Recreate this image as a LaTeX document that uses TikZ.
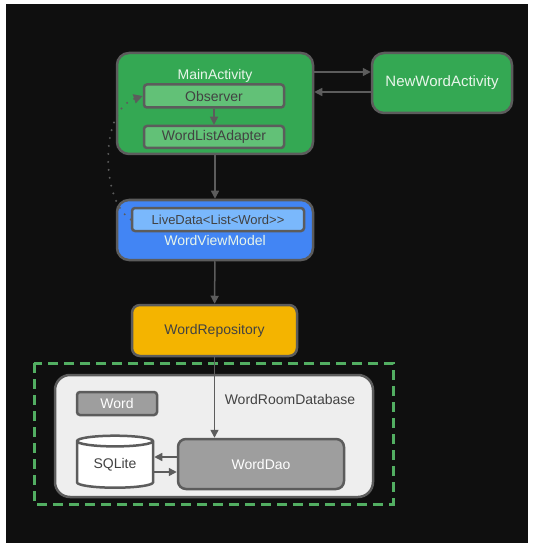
\documentclass[tikz,border=0pt]{standalone}
\usepackage{fontspec}
\setmainfont{Liberation Sans}
\usetikzlibrary{arrows.meta,shapes.geometric}
\definecolor{bgc}{HTML}{0F0F0F}
\definecolor{edgec}{HTML}{5C5C5C}
\definecolor{greenc}{HTML}{34A853}
\definecolor{lgreenc}{HTML}{62C177}
\definecolor{bluec}{HTML}{4285F4}
\definecolor{lbluec}{HTML}{7AB8FC}
\definecolor{yellowc}{HTML}{F4B400}
\definecolor{greyc}{HTML}{9E9E9E}
\definecolor{roomc}{HTML}{EEEEEE}
\definecolor{dashc}{HTML}{52AE62}
\definecolor{darkt}{HTML}{424242}
\definecolor{lightt}{HTML}{E8F5EA}

\begin{document}
\begin{tikzpicture}[x=1pt,y=-1pt,
    box/.style={draw=edgec, line width=2.5pt, rounded corners=12pt, inner sep=0pt,
      font=\fontsize{14}{16}\selectfont},
    inbox/.style={draw=edgec, line width=2.5pt, rounded corners=3pt, inner sep=0pt,
      font=\fontsize{14}{16}\selectfont, text=darkt},
    lbl/.style={inner sep=0pt, font=\fontsize{14}{16}\selectfont},
    arr/.style={draw=edgec, line width=1.5pt, -{Triangle[length=8pt,width=8pt]}},
    dots/.style={draw=edgec, line width=2.2pt, dash pattern=on 0pt off 8pt, line cap=round,
      -{Triangle[length=9pt,width=9pt]}}]
  \useasboundingbox (0,0) rectangle (532,545);
  \fill[white] (0,0) rectangle (532,545);
  \fill[bgc] (6,4) rectangle (528,543);
  \node[box, fill=greenc, minimum width=196pt, minimum height=101pt] (ma) at (215,103.5) {};
  \node[lbl, text=lightt] (mat) at (215,76) {MainActivity};
  \node[inbox, fill=lgreenc, minimum width=140pt, minimum height=23pt] (ob) at (214,96) {Observer};
  \node[inbox, fill=lgreenc, minimum width=140pt, minimum height=22pt] (wl) at (214,137) {WordListAdapter};
  \node[box, fill=greenc, text=lightt, minimum width=140pt, minimum height=60pt,
    font=\fontsize{15}{17}\selectfont] (nw) at (442,83) {NewWordActivity};
  \node[box, fill=bluec, minimum width=196pt, minimum height=60pt] (vm) at (215,230) {};
  \node[inbox, fill=lbluec, minimum width=172pt, minimum height=23pt,
    font=\fontsize{13}{15}\selectfont] (ld) at (218,219.5) {LiveData<List<Word>{}>};
  \node[lbl, text=lightt] (vmt) at (215,240) {WordViewModel};
  \node[box, fill=yellowc, text=darkt, rounded corners=8pt, minimum width=165pt,
    minimum height=51pt] (wr) at (214.5,330.5) {WordRepository};
  \draw[dashc, line width=3pt, dash pattern=on 10pt off 6pt] (34,363) rectangle (393,504);
  \node[box, fill=roomc, rounded corners=15pt, minimum width=318pt, minimum height=122pt] (rd) at (214,436) {};
  \node[lbl, text=darkt] (rdt) at (290,399) {WordRoomDatabase};
  \node[inbox, fill=greyc, text=white, minimum width=80pt, minimum height=23pt] (wd) at (117,403.5) {Word};
  \node[box, fill=white, text=darkt, cylinder, shape border rotate=90, aspect=0.25,
    rounded corners=0pt, minimum width=76pt, minimum height=52pt] (sq) at (115,465) {SQLite};
  \node[box, fill=greyc, text=white, rounded corners=8pt, minimum width=166pt,
    minimum height=50pt] (dao) at (261,464) {WordDao};
  \draw[arr] (ma.east |- 0,72) -- (nw.west |- 0,72);
  \draw[arr] (nw.west |- 0,92) -- (ma.east |- 0,92);
  \draw[arr] (ob) -- (wl);
  \draw[arr] (ma) -- (vm);
  \draw[arr] (vm) -- (wr);
  \draw[arr] (wr.south) -- (wr.south |- dao.north);
  \draw[arr] (dao.west |- 0,457) -- (sq.east |- 0,457);
  \draw[arr] (sq.east |- 0,472) -- (dao.west |- 0,472);
  \draw[dots] (ld.west) .. controls (100,200) and (100,110) .. (ob.west);
\end{tikzpicture}
\end{document}
